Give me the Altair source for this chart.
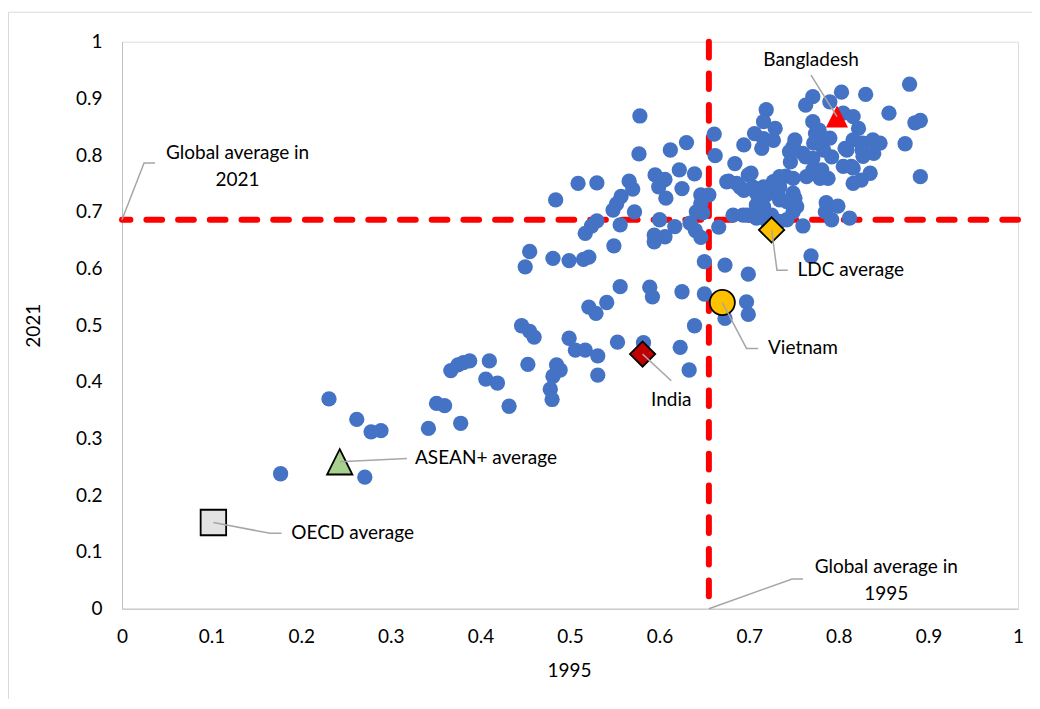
import altair as alt
import pandas as pd

# ---- scatter values (share in 1995 vs share in 2021) ----
x_1995 = [
    0.177, 0.231, 0.262, 0.278, 0.289, 0.271, 0.342, 0.351, 0.360, 0.367,
    0.375, 0.381, 0.388, 0.378, 0.410, 0.406, 0.419, 0.432, 0.446, 0.455,
    0.460, 0.453, 0.485, 0.489, 0.481, 0.478, 0.480, 0.499, 0.506, 0.517,
    0.531, 0.531, 0.553, 0.582, 0.623, 0.633, 0.639, 0.521, 0.529, 0.541,
    0.556, 0.589, 0.592, 0.625, 0.650, 0.650, 0.673, 0.673, 0.450, 0.455,
    0.481, 0.499, 0.515, 0.521, 0.549, 0.697, 0.699, 0.699, 0.769,
    0.578, 0.577, 0.612, 0.630, 0.661, 0.662, 0.595, 0.606, 0.622, 0.639,
    0.599, 0.625, 0.607, 0.566, 0.570, 0.557, 0.552, 0.548, 0.572, 0.509,
    0.530, 0.484, 0.530, 0.524, 0.517, 0.556, 0.600, 0.617, 0.594, 0.594,
    0.606, 0.646, 0.655, 0.646, 0.641, 0.648, 0.634, 0.640, 0.646, 0.666,
    0.675,
    0.694, 0.684, 0.677, 0.690, 0.699, 0.682, 0.693, 0.719, 0.716, 0.729,
    0.706, 0.716, 0.727, 0.714, 0.751, 0.749, 0.745, 0.760, 0.771, 0.778,
    0.779, 0.790, 0.792, 0.771, 0.781, 0.788, 0.779, 0.771, 0.805, 0.816,
    0.822, 0.816, 0.807, 0.827, 0.838, 0.846, 0.839, 0.827, 0.874, 0.891,
    0.805, 0.814, 0.835, 0.825, 0.816, 0.786, 0.799, 0.792, 0.812, 0.760,
    0.749, 0.751, 0.749, 0.734, 0.734, 0.734, 0.727, 0.734, 0.725, 0.708,
    0.701, 0.716, 0.708, 0.719, 0.716, 0.704, 0.694, 0.686, 0.702,
    0.879, 0.803, 0.830, 0.771, 0.763, 0.790, 0.856, 0.885, 0.891,
    0.741, 0.774, 0.772, 0.783, 0.809, 0.826, 0.816, 0.749, 0.764, 0.746,
    0.751, 0.763, 0.742, 0.719, 0.697, 0.708, 0.714, 0.732, 0.732, 0.753,
    0.742, 0.785,
]
y_2021 = [
    0.238, 0.370, 0.334, 0.312, 0.314, 0.232, 0.318, 0.362, 0.358, 0.420,
    0.430, 0.434, 0.437, 0.327, 0.437, 0.405, 0.398, 0.357, 0.499, 0.489,
    0.479, 0.431, 0.430, 0.421, 0.410, 0.387, 0.369, 0.477, 0.456, 0.456,
    0.446, 0.412, 0.470, 0.469, 0.461, 0.421, 0.499, 0.532, 0.521, 0.540,
    0.568, 0.567, 0.550, 0.559, 0.555, 0.612, 0.606, 0.512, 0.603, 0.630,
    0.618, 0.614, 0.616, 0.620, 0.640, 0.541, 0.519, 0.590, 0.622,
    0.869, 0.802, 0.809, 0.822, 0.837, 0.799, 0.765, 0.757, 0.774, 0.767,
    0.744, 0.741, 0.724, 0.754, 0.740, 0.727, 0.714, 0.703, 0.700, 0.750,
    0.751, 0.721, 0.684, 0.675, 0.662, 0.677, 0.686, 0.674, 0.659, 0.647,
    0.656, 0.730, 0.730, 0.715, 0.700, 0.698, 0.680, 0.667, 0.655, 0.673,
    0.753,
    0.818, 0.785, 0.754, 0.743, 0.765, 0.694, 0.694, 0.880, 0.859, 0.847,
    0.838, 0.829, 0.826, 0.812, 0.827, 0.815, 0.806, 0.803, 0.859, 0.844,
    0.821, 0.830, 0.797, 0.794, 0.774, 0.759, 0.759, 0.774, 0.874, 0.868,
    0.847, 0.827, 0.812, 0.821, 0.827, 0.821, 0.803, 0.798, 0.820, 0.762,
    0.780, 0.780, 0.768, 0.756, 0.750, 0.716, 0.710, 0.686, 0.689, 0.675,
    0.700, 0.724, 0.733, 0.721, 0.744, 0.762, 0.753, 0.683, 0.694, 0.689,
    0.694, 0.709, 0.712, 0.730, 0.744, 0.744, 0.738, 0.750, 0.768,
    0.925, 0.911, 0.907, 0.903, 0.888, 0.894, 0.874, 0.857, 0.861,
    0.763, 0.838, 0.821, 0.809, 0.809, 0.809, 0.777, 0.759, 0.762, 0.788,
    0.809, 0.797, 0.686, 0.686, 0.694, 0.733, 0.715, 0.733, 0.756, 0.709,
    0.718, 0.700,
]

global_avg_1995 = 0.655
global_avg_2021 = 0.686

# highlighted economies / groups
marker_names = ["OECD average", "ASEAN+ average", "India", "Vietnam", "LDC average", "Bangladesh"]
marker_x = [0.102, 0.243, 0.581, 0.670, 0.725, 0.798]
marker_y = [0.152, 0.259, 0.449, 0.540, 0.668, 0.868]

# annotation labels (anchor in data units; first line for two-line labels)
label_text = ["OECD average", "ASEAN+ average", "Vietnam", "LDC average",
              "India", "Bangladesh", "Global average in\n2021", "Global average in\n1995"]
label_x = [0.189, 0.327, 0.721, 0.754, 0.613, 0.769, 0.129, 0.853]
label_y = [0.133, 0.265, 0.460, 0.597, 0.368, 0.968, 0.804, 0.0735]

# leader lines (data units)
leader_id = ["OECD", "OECD", "OECD", "ASEAN", "ASEAN", "India", "India",
             "Vietnam", "Vietnam", "Vietnam", "LDC", "LDC", "LDC",
             "Bangladesh", "Bangladesh", "G2021", "G2021", "G2021",
             "G1995", "G1995", "G1995"]
leader_x = [0.102, 0.165, 0.178, 0.243, 0.318, 0.581, 0.613,
            0.670, 0.697, 0.710, 0.725, 0.731, 0.743,
            0.798, 0.769, 0.0, 0.0246, 0.0368,
            0.655, 0.748, 0.760]
leader_y = [0.152, 0.133, 0.133, 0.259, 0.265, 0.449, 0.402,
            0.540, 0.459, 0.459, 0.668, 0.597, 0.597,
            0.868, 0.941, 0.686, 0.786, 0.786,
            0.0, 0.0524, 0.0524]

tick_values = [0, 0.1, 0.2, 0.3, 0.4, 0.5, 0.6, 0.7, 0.8, 0.9, 1]

FONT = "Lato"
FS = 19

dots = pd.DataFrame({"x": x_1995, "y": y_2021})
markers = pd.DataFrame({"name": marker_names, "x": marker_x, "y": marker_y})
labels = pd.DataFrame({"label": label_text, "x": label_x, "y": label_y})
leaders = pd.DataFrame({"id": leader_id, "x": leader_x, "y": leader_y,
                        "k": list(range(len(leader_id)))})

xscale = alt.Scale(domain=[0, 1], nice=False, zero=False)
yscale = alt.Scale(domain=[0, 1], nice=False, zero=False)

xaxis = alt.Axis(values=tick_values, format="~g", grid=False, ticks=False, tickSize=0,
                 labelFlush=False, labelOverlap=False, labelBaseline="middle",
                 labelPadding=28, labelFontSize=FS, labelColor="#000000", labelFont=FONT,
                 domainColor="#BFBFBF", domainWidth=1,
                 titleFontSize=FS, titleFont=FONT, titleFontWeight="normal", titleColor="#000000",
                 titleX=447, titleY=62, titleBaseline="middle", titleAlign="center")
yaxis = alt.Axis(values=tick_values, format="~g", grid=False, ticks=False, tickSize=0,
                 labelFlush=False, labelOverlap=False, labelBaseline="middle",
                 labelPadding=20, labelFontSize=FS, labelColor="#000000", labelFont=FONT,
                 domainColor="#BFBFBF", domainWidth=1,
                 titleFontSize=FS, titleFont=FONT, titleFontWeight="normal", titleColor="#000000",
                 titleX=-89, titleY=283.5, titleAngle=270, titleBaseline="middle", titleAlign="center")


def X():
    return alt.X("x:Q", scale=xscale, axis=xaxis, title="1995")


def Y():
    return alt.Y("y:Q", scale=yscale, axis=yaxis, title="2021")


border = alt.Chart(pd.DataFrame({"b": [0]})).mark_rect(
    fillOpacity=0, stroke="#D9D9D9", strokeWidth=1
).encode(x=alt.value(-113.5), x2=alt.value(1200), y=alt.value(-29.5), y2=alt.value(900))

vrule = alt.Chart(pd.DataFrame({"x": [global_avg_1995]})).mark_rule(
    color="#FF0000", strokeWidth=6, strokeDash=[15.7, 16], strokeCap="round"
).encode(x=X())
hrule = alt.Chart(pd.DataFrame({"y": [global_avg_2021]})).mark_rule(
    color="#FF0000", strokeWidth=6, strokeDash=[15.7, 16], strokeCap="round"
).encode(y=Y())

dot_layer = alt.Chart(dots).mark_point(
    filled=True, shape="circle", size=234, color="#4472C4", opacity=1
).encode(x=X(), y=Y())

marker_style = {
    "OECD average": dict(shape="square", color="#E3E3E3", size=650, stroke="#000000", strokeWidth=1.8),
    "ASEAN+ average": dict(shape="M0,-1L1,1L-1,1Z", color="#A9D18E", size=640, stroke="#000000", strokeWidth=1.8),
    "India": dict(shape="diamond", color="#C00000", size=640, stroke="#000000", strokeWidth=1.8),
    "Vietnam": dict(shape="circle", color="#FFC000", size=630, stroke="#000000", strokeWidth=1.8),
    "LDC average": dict(shape="diamond", color="#FFC000", size=640, stroke="#000000", strokeWidth=1.8),
    "Bangladesh": dict(shape="M0,-1L1,1L-1,1Z", color="#FF0000", size=484, strokeWidth=0),
}
marker_layers = []
for nm in marker_names:
    st = marker_style[nm]
    marker_layers.append(
        alt.Chart(markers[markers["name"] == nm]).mark_point(filled=True, opacity=1, **st)
        .encode(x=X(), y=Y())
    )

leader_layer = alt.Chart(leaders).mark_line(color="#A6A6A6", strokeWidth=1.5).encode(
    x=X(), y=Y(), detail="id:N", order="k:Q"
)

left_names = ["OECD average", "ASEAN+ average", "Vietnam", "LDC average"]
text_left = alt.Chart(labels[labels["label"].isin(left_names)]).mark_text(
    align="left", baseline="middle", font=FONT, fontSize=FS, color="#000000"
).encode(x=X(), y=Y(), text="label:N")
text_center = alt.Chart(labels[~labels["label"].isin(left_names)]).mark_text(
    align="center", baseline="middle", font=FONT, fontSize=FS, color="#000000",
    lineBreak="\n", lineHeight=27
).encode(x=X(), y=Y(), text="label:N")

chart = alt.layer(
    border, hrule, vrule, dot_layer, *marker_layers, leader_layer, text_left, text_center
).properties(
    width=896, height=567,
    autosize=alt.AutoSizeParams(type="none"),
    padding={"left": 114, "top": 33.7, "right": 14, "bottom": 90},
).configure_view(strokeWidth=0).configure(font=FONT, background="#FFFFFF")

chart.save("out.html", embed_options={"renderer": "svg", "actions": False})
